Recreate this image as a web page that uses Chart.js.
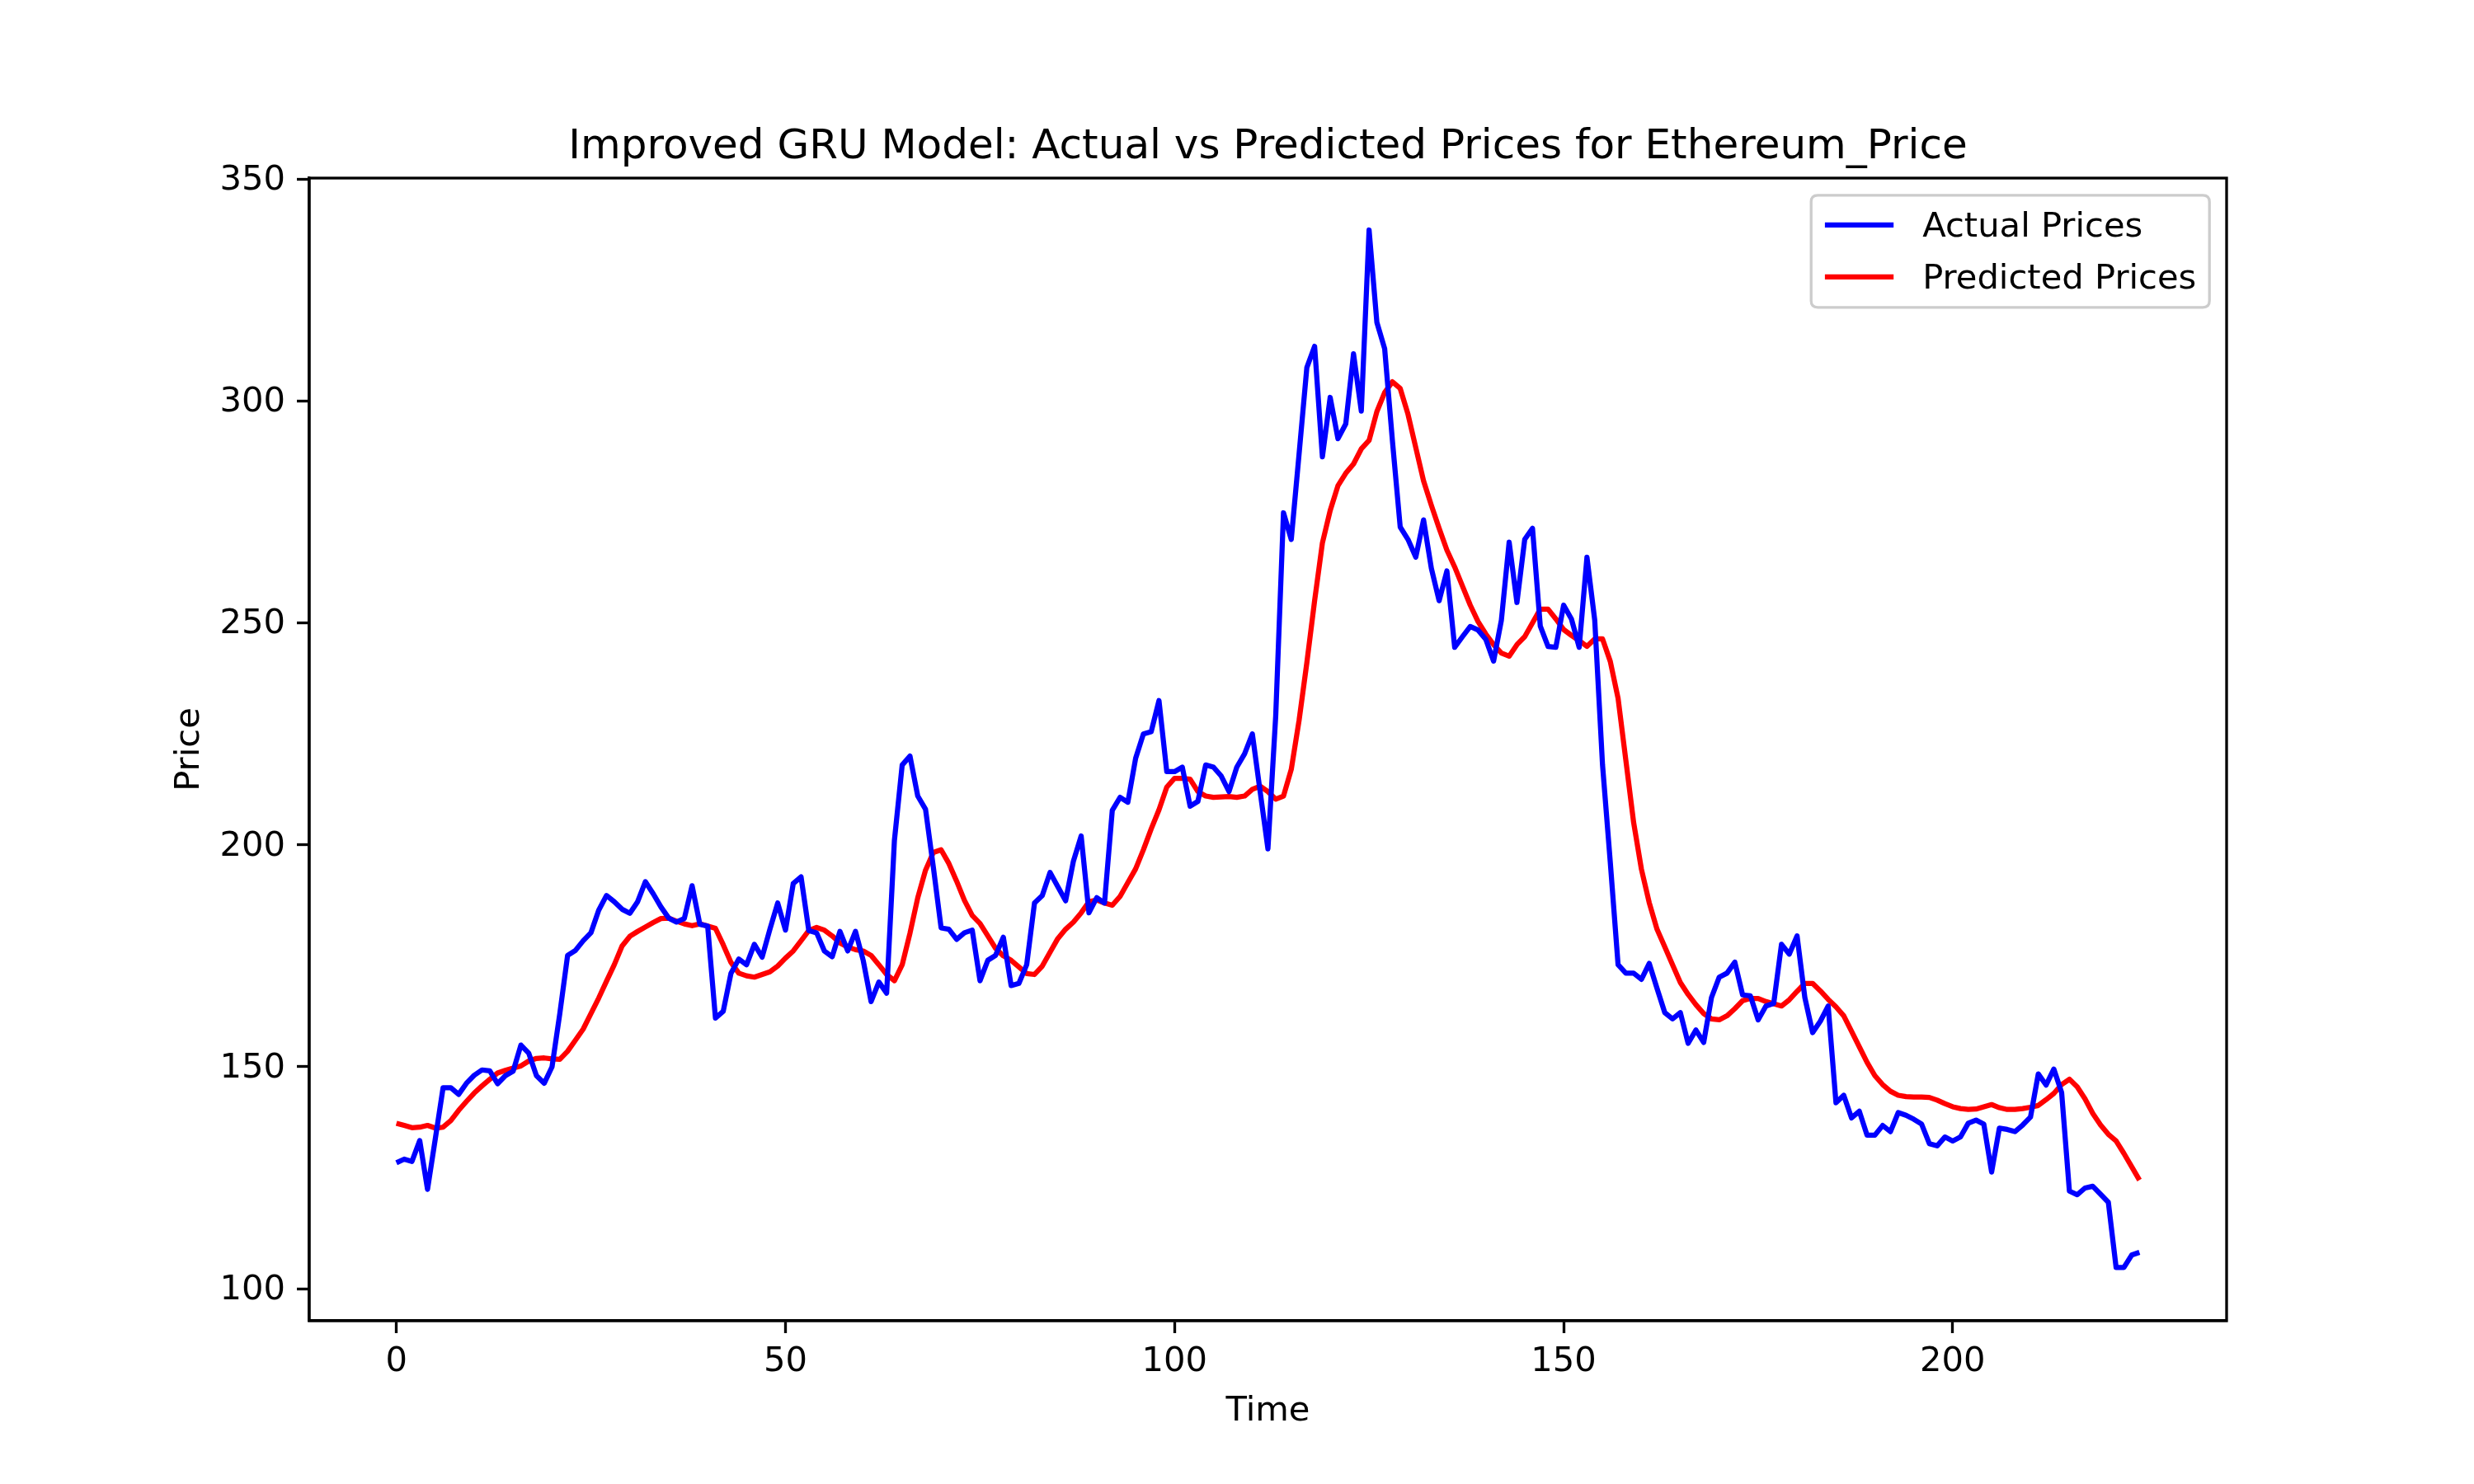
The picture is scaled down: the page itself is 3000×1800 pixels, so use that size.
<!DOCTYPE html>
<html>
<head>
<meta charset="utf-8">
<script src="https://cdn.jsdelivr.net/npm/chart.js@4.4.1/dist/chart.umd.min.js"></script>
<style>
  html, body { margin: 0; padding: 0; background: #ffffff; }
  #wrap { width: 3000px; height: 1800px; }
</style>
</head>
<body>
<div id="wrap"><canvas id="c" width="3000" height="1800"></canvas></div>
<script>
// ---------------- DATA ----------------
const chartTitle = 'Improved GRU Model: Actual vs Predicted Prices for Ethereum_Price';
const xAxisLabel = 'Time';
const yAxisLabel = 'Price';
const seriesNames = ['Actual Prices', 'Predicted Prices'];
const xTickValues = [0, 50, 100, 150, 200];
const yTickValues = [100, 150, 200, 250, 300, 350];

const actualPrices = [
  128.4, 129.2, 128.7, 133.4, 122.4, 133.8, 145.3, 145.3, 143.8, 146.3,
  148.1, 149.3, 149.1, 146.2, 148.0, 149.0, 154.9, 153.1, 148.0, 146.3,
  150.0, 162.0, 175.1, 176.2, 178.4, 180.2, 185.3, 188.6, 187.2, 185.5,
  184.6, 187.2, 191.7, 189.0, 186.0, 183.5, 182.6, 183.4, 190.8, 182.1,
  181.7, 161.0, 162.5, 171.1, 174.3, 173.0, 177.6, 174.7, 181.0, 186.9,
  180.8, 191.3, 192.8, 180.7, 180.2, 176.1, 174.8, 180.5, 176.1, 180.5,
  173.9, 164.7, 169.1, 166.6, 201.0, 218.0, 220.0, 211.0, 208.0, 195.0,
  181.3, 181.0, 178.7, 180.2, 180.8, 169.4, 174.0, 175.1, 179.2, 168.3,
  168.8, 173.0, 186.9, 188.6, 193.8, 190.6, 187.4, 196.3, 202.0, 184.7,
  188.1, 186.9, 207.8, 210.7, 209.6, 219.5, 225.0, 225.5, 232.5, 216.5,
  216.5, 217.5, 208.7, 209.8, 218.0, 217.5, 215.5, 212.0, 217.5, 220.5,
  225.0, 212.0, 199.1, 229.0, 274.8, 268.8, 288.0, 307.5, 312.3, 287.4,
  300.8, 291.5, 294.8, 310.6, 297.7, 338.5, 317.7, 311.8, 291.0, 271.6,
  268.8, 264.8, 273.2, 262.3, 255.0, 261.7, 244.5, 246.9, 249.2, 248.4,
  246.3, 241.4, 250.6, 268.2, 254.6, 268.8, 271.3, 249.3, 244.7, 244.5,
  254.0, 250.9, 244.5, 264.8, 250.6, 218.0, 196.0, 173.0, 171.1, 171.1,
  169.7, 173.3, 167.7, 162.2, 160.8, 162.2, 155.3, 158.3, 155.5, 165.6,
  170.2, 171.1, 173.6, 166.2, 166.0, 160.6, 163.7, 164.3, 177.6, 175.4,
  179.5, 165.6, 157.7, 160.3, 163.7, 141.9, 143.6, 138.5, 140.0, 134.6,
  134.6, 136.8, 135.4, 139.7, 139.1, 138.2, 137.1, 132.7, 132.2, 134.2,
  133.3, 134.2, 137.3, 138.0, 137.1, 126.3, 136.2, 135.9, 135.4, 136.9,
  138.7, 148.4, 145.9, 149.5, 144.2, 122.0, 121.2, 122.7, 123.1, 121.3,
  119.5, 104.8, 104.8, 107.6, 108.2
];

const predictedPrices = [
  137.3, 136.8, 136.3, 136.4, 136.8, 136.2, 136.4, 137.9, 140.2, 142.2,
  144.1, 145.7, 147.2, 148.6, 149.2, 149.7, 150.2, 151.3, 151.9, 152.0,
  151.8, 151.7, 153.5, 156.0, 158.5, 162.0, 165.5, 169.3, 173.0, 177.2,
  179.4, 180.5, 181.5, 182.5, 183.4, 183.5, 182.8, 182.2, 181.8, 182.2,
  181.7, 181.2, 177.5, 173.5, 171.1, 170.5, 170.2, 170.8, 171.4, 172.7,
  174.5, 176.1, 178.4, 180.7, 181.4, 180.8, 179.5, 177.9, 177.0, 176.4,
  176.1, 175.1, 173.0, 170.8, 169.4, 173.0, 180.1, 188.1, 194.3, 198.3,
  198.9, 195.8, 191.8, 187.5, 184.1, 182.3, 179.5, 176.7, 175.0, 174.0,
  172.5, 171.0, 170.8, 172.7, 175.8, 178.9, 181.0, 182.6, 184.7, 187.2,
  187.6, 186.9, 186.4, 188.4, 191.5, 194.6, 198.9, 203.6, 207.9, 213.0,
  215.0, 215.0, 214.8, 212.0, 211.0, 210.7, 210.8, 210.9, 210.7, 211.0,
  212.5, 213.2, 212.0, 210.3, 211.0, 217.0, 228.0, 241.0, 255.0, 268.0,
  275.3, 280.9, 283.7, 285.8, 289.2, 291.1, 297.6, 301.9, 304.3, 302.8,
  297.0, 289.5, 282.0, 276.5, 271.3, 266.4, 262.6, 258.3, 254.0, 250.3,
  247.5, 245.1, 243.2, 242.5, 245.1, 246.9, 250.0, 253.1, 253.1, 250.9,
  248.5, 247.2, 246.0, 244.7, 246.4, 246.4, 241.3, 233.0, 219.0, 205.0,
  194.5, 187.0, 181.0, 177.0, 173.0, 169.0, 166.3, 164.0, 162.0, 160.8,
  160.6, 161.5, 163.1, 164.9, 165.4, 165.4, 164.7, 164.2, 163.7, 165.1,
  167.0, 168.8, 168.8, 167.1, 165.2, 163.5, 161.5, 158.0, 154.5, 151.0,
  148.0, 146.0, 144.5, 143.6, 143.3, 143.2, 143.2, 143.1, 142.5, 141.7,
  141.0, 140.6, 140.4, 140.5, 141.0, 141.5, 140.8, 140.4, 140.4, 140.6,
  140.9, 141.3, 142.6, 144.0, 146.0, 147.2, 145.5, 142.8, 139.5, 136.9,
  134.8, 133.3, 130.5, 127.5, 124.5
];

// ---------------- STYLE ----------------
const FONT = 'DejaVu Sans';
const FS = 41.67;            // 10pt @ 300dpi
const TITLE_FS = 50;         // 12pt @ 300dpi
const LINE_W = 6.25;         // 1.5pt
const SPINE_W = 3.33;        // 0.8pt
const colors = ['#0000ff', '#ff0000'];

Chart.defaults.font.family = FONT;
Chart.defaults.color = '#000000';

const toPoints = arr => arr.map((v, i) => ({ x: i, y: v }));

const framePlugin = {
  id: 'frame',
  afterDatasetsDraw(chart) {
    const { ctx, chartArea: a } = chart;
    ctx.save();
    ctx.strokeStyle = '#000000';
    ctx.lineWidth = SPINE_W;
    ctx.strokeRect(a.left, a.top, a.right - a.left, a.bottom - a.top);
    ctx.restore();
  }
};

const titlePlugin = {
  id: 'mplTitle',
  afterDraw(chart) {
    const { ctx, chartArea: a } = chart;
    ctx.save();
    ctx.fillStyle = '#000000';
    ctx.font = `${TITLE_FS}px "${FONT}"`;
    ctx.textAlign = 'center';
    ctx.textBaseline = 'alphabetic';
    ctx.fillText(chartTitle, (a.left + a.right) / 2, a.top - 24);
    ctx.restore();
  }
};

const legendPlugin = {
  id: 'mplLegend',
  afterDraw(chart) {
    const { ctx, chartArea: a } = chart;
    const right = a.right - 20.8, top = a.top + 20.8;
    const width = 483, height = 136;
    const left = right - width;
    ctx.save();
    const r = 8;
    ctx.beginPath();
    ctx.moveTo(left + r, top);
    ctx.lineTo(right - r, top);
    ctx.quadraticCurveTo(right, top, right, top + r);
    ctx.lineTo(right, top + height - r);
    ctx.quadraticCurveTo(right, top + height, right - r, top + height);
    ctx.lineTo(left + r, top + height);
    ctx.quadraticCurveTo(left, top + height, left, top + height - r);
    ctx.lineTo(left, top + r);
    ctx.quadraticCurveTo(left, top, left + r, top);
    ctx.closePath();
    ctx.fillStyle = 'rgba(255,255,255,0.8)';
    ctx.fill();
    ctx.strokeStyle = '#cccccc';
    ctx.lineWidth = 3.3;
    ctx.stroke();
    ctx.font = `${FS}px "${FONT}"`;
    ctx.textAlign = 'left';
    ctx.textBaseline = 'middle';
    chart.data.datasets.forEach((ds, i) => {
      const y = top + 36 + i * 63;
      const hx = left + 16.7;
      ctx.beginPath();
      ctx.moveTo(hx, y);
      ctx.lineTo(hx + 83.3, y);
      ctx.strokeStyle = ds.borderColor;
      ctx.lineWidth = LINE_W;
      ctx.stroke();
      ctx.fillStyle = '#000000';
      ctx.fillText(ds.label, hx + 83.3 + 35, y + 3);
    });
    ctx.restore();
  }
};

new Chart(document.getElementById('c'), {
  type: 'line',
  data: {
    datasets: [
      {
        label: seriesNames[0],
        data: toPoints(actualPrices),
        borderColor: colors[0],
        backgroundColor: colors[0],
        borderWidth: LINE_W,
        pointRadius: 0,
        tension: 0,
        fill: false,
        borderJoinStyle: 'round',
        borderCapStyle: 'butt'
      },
      {
        label: seriesNames[1],
        data: toPoints(predictedPrices),
        borderColor: colors[1],
        backgroundColor: colors[1],
        borderWidth: LINE_W,
        pointRadius: 0,
        tension: 0,
        fill: false,
        borderJoinStyle: 'round',
        borderCapStyle: 'butt'
      }
    ]
  },
  options: {
    responsive: false,
    animation: false,
    devicePixelRatio: 1,
    layout: { padding: { left: 0, right: 300, top: 216, bottom: 0 } },
    plugins: {
      legend: { display: false },
      title: { display: false },
      tooltip: { enabled: false }
    },
    scales: {
      x: {
        type: 'linear',
        min: -11.2,
        max: 235.2,
        afterBuildTicks: s => { s.ticks = xTickValues.map(v => ({ value: v })); },
        afterFit: s => { s.height = 198; },
        grid: { drawOnChartArea: false, drawTicks: true, tickLength: 15, tickWidth: SPINE_W, tickColor: '#000000' },
        border: { display: true, color: '#000000', width: SPINE_W },
        ticks: { color: '#000000', font: { size: FS }, padding: 10, maxRotation: 0, autoSkip: false },
        title: { display: true, text: xAxisLabel, color: '#000000', font: { size: FS }, padding: { top: 0, bottom: 63 } }
      },
      y: {
        type: 'linear',
        min: 92.8,
        max: 350.2,
        afterBuildTicks: s => { s.ticks = yTickValues.map(v => ({ value: v })); },
        afterFit: s => { s.width = 375; },
        grid: { drawOnChartArea: false, drawTicks: true, tickLength: 15, tickWidth: SPINE_W, tickColor: '#000000' },
        border: { display: true, color: '#000000', width: SPINE_W },
        ticks: { color: '#000000', font: { size: FS }, padding: 14, autoSkip: false, labelOffset: 2 },
        title: { display: true, text: yAxisLabel, color: '#000000', font: { size: FS }, padding: { top: 205, bottom: 0 } }
      }
    }
  },
  plugins: [framePlugin, titlePlugin, legendPlugin]
});
</script>
</body>
</html>
